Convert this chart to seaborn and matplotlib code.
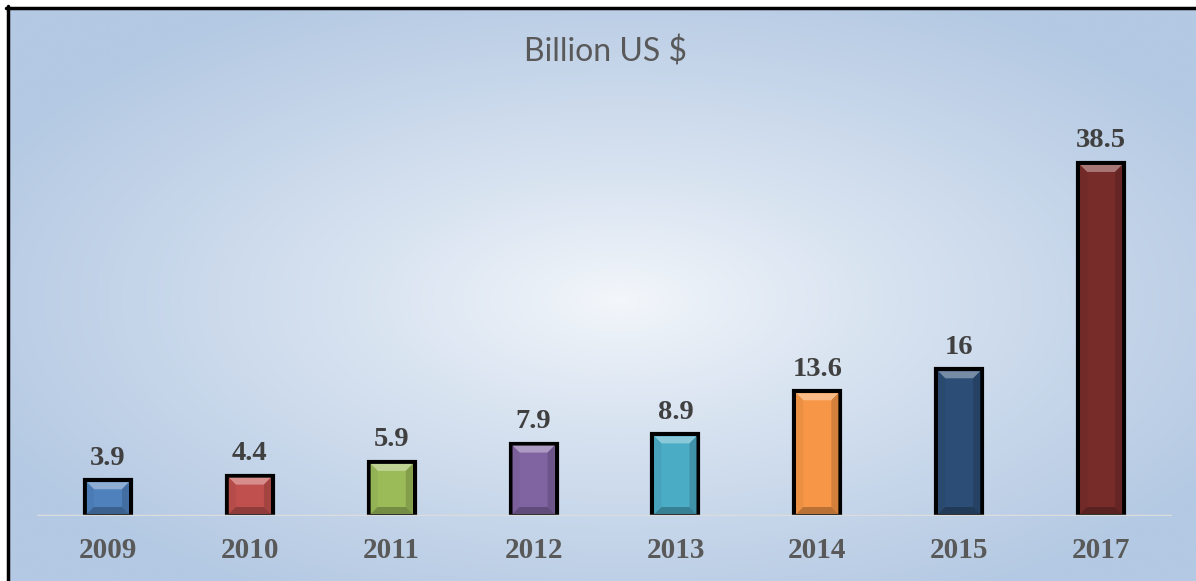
import numpy as np
import pandas as pd
import matplotlib
matplotlib.use("Agg")
import matplotlib.pyplot as plt
import seaborn as sns
from matplotlib.patches import Polygon
from matplotlib.colors import to_rgb

years = ["2009", "2010", "2011", "2012", "2013", "2014", "2015", "2017"]
values = [3.9, 4.4, 5.9, 7.9, 8.9, 13.6, 16, 38.5]
labels = ["3.9", "4.4", "5.9", "7.9", "8.9", "13.6", "16", "38.5"]
colors = ["#4f81bd", "#c0504d", "#9bbb59", "#8064a2", "#4bacc6", "#f79646", "#2c4d75", "#772c2a"]
title = "Billion US $"

df = pd.DataFrame({"year": years, "value": values})

sns.set_theme(style="white")
W, H = 1196, 581
fig = plt.figure(figsize=(W / 100, H / 100), dpi=100)
fig.patch.set_facecolor("white")

# background radial gradient
bg = fig.add_axes([9 / W, 0, 1 - 9 / W, 1 - 9 / H], zorder=0)
xs = np.linspace(9, W, 600)
ys = np.linspace(9, H, 300)
X, Y = np.meshgrid(xs, ys)
t = np.sqrt(((X - 620) / 700) ** 2 + ((Y - 300) / 340) ** 2)
t = np.clip(t, 0, 1) ** 0.85
c0 = np.array(to_rgb("#f4f7fb"))
c1 = np.array(to_rgb("#b4c9e3"))
img = c0[None, None, :] * (1 - t[..., None]) + c1[None, None, :] * t[..., None]
bg.imshow(img, aspect="auto", extent=[0, 1, 0, 1], origin="upper")
bg.set_axis_off()

# border (left and top)
fig.add_artist(plt.Line2D([7.5 / W, 7.5 / W], [0, 1 - 6 / H], color="black", lw=2.5, transform=fig.transFigure))
fig.add_artist(plt.Line2D([6 / W, 1], [1 - 7.5 / H, 1 - 7.5 / H], color="black", lw=2.5, transform=fig.transFigure))

ax = fig.add_axes([37 / W, 65 / H, (1172 - 37) / W, (516 - 100) / H], zorder=1)
ax.patch.set_alpha(0)
sns.barplot(data=df, x="year", y="value", hue="year", palette=colors, width=0.325,
            legend=False, ax=ax, saturation=1, edgecolor="black", linewidth=3, zorder=2)
ax.set_xlim(-0.5, 7.5)
ax.set_ylim(0, 416 / 9.17)
for s in ax.spines.values():
    s.set_visible(False)
ax.set_yticks([])
ax.set_xlabel("")
ax.set_ylabel("")
ax.tick_params(axis="x", length=0, pad=15)
for tl in ax.get_xticklabels():
    tl.set_fontfamily("Liberation Serif")
    tl.set_fontweight("bold")
    tl.set_fontsize(21)
    tl.set_color("#595959")

ax.axhline(0, color="#dcdcdc", lw=2.5, zorder=5)

# bevel effect derived from the seaborn bars
fig.canvas.draw()
inv = ax.transData.inverted()
bars = list(ax.patches)
for p, col in zip(bars, colors):
    x0d, y0d = p.get_x(), p.get_y()
    x1d, y1d = x0d + p.get_width(), y0d + p.get_height()
    (x0, y0) = ax.transData.transform((x0d, y0d))
    (x1, y1) = ax.transData.transform((x1d, y1d))
    x0 += 2; x1 -= 2; y0 += 2; y1 -= 2
    d = 7
    base = np.array(to_rgb(col))
    light = base + (1 - base) * 0.35
    dark = base * 0.75
    mid_l = base * 0.95
    mid_d = base * 0.85
    polys = [
        ([(x0, y1), (x1, y1), (x1 - d, y1 - d), (x0 + d, y1 - d)], light),
        ([(x0, y0), (x0, y1), (x0 + d, y1 - d), (x0 + d, y0 + d)], mid_l),
        ([(x1, y0), (x1, y1), (x1 - d, y1 - d), (x1 - d, y0 + d)], mid_d),
        ([(x0, y0), (x1, y0), (x1 - d, y0 + d), (x0 + d, y0 + d)], dark),
    ]
    for pts, c in polys:
        dpts = inv.transform(np.array(pts))
        ax.add_patch(Polygon(dpts, closed=True, facecolor=c, edgecolor="none", zorder=3))

for p, lab in zip(bars, labels):
    ax.annotate(lab, (p.get_x() + p.get_width() / 2, p.get_height()), xytext=(0, 7),
                textcoords="offset points", ha="center", va="bottom",
                fontfamily="Liberation Serif", fontweight="bold", fontsize=20.5, color="#404040")

fig.text(605 / W, 1 - 52 / H, title, ha="center", va="center", fontfamily="Lato",
         fontsize=23, color="#595959")

fig.savefig("out.png", dpi=100)
